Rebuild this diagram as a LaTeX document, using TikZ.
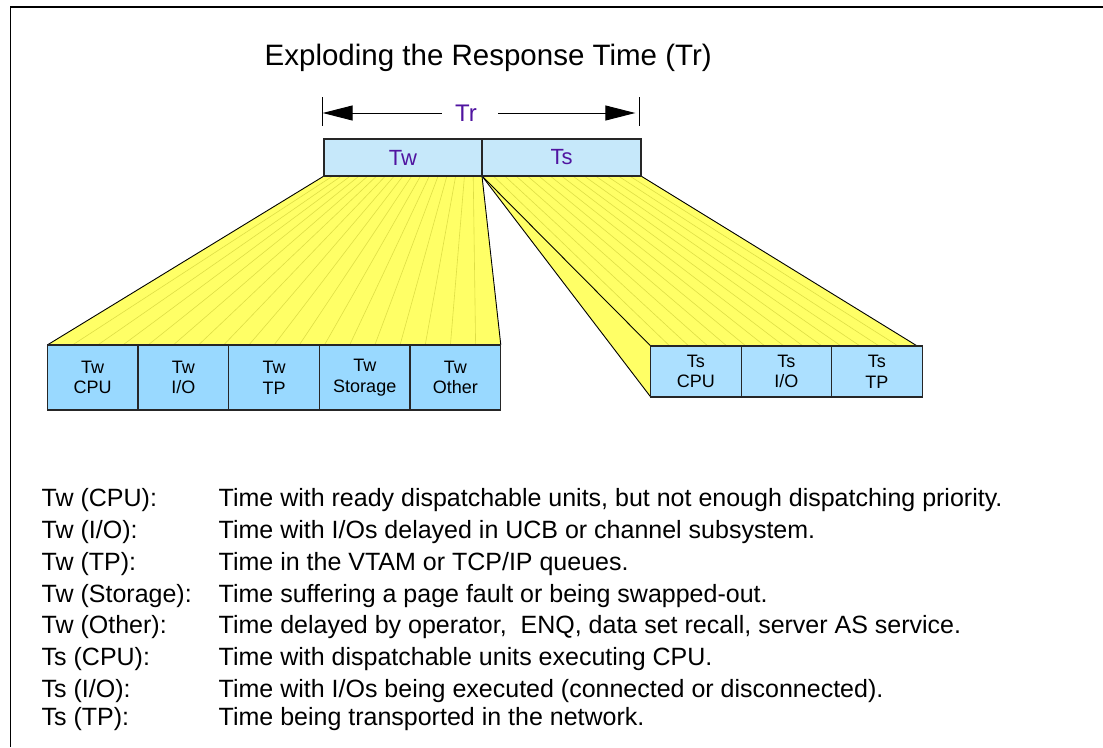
\documentclass[tikz,border=0pt]{standalone}
\usepackage{fontspec}
\setmainfont{Liberation Sans}
\usetikzlibrary{positioning,calc,arrows.meta,backgrounds}
\definecolor{barblue}{RGB}{198,232,250}
\definecolor{twblue}{RGB}{153,217,255}
\definecolor{tsblue}{RGB}{172,224,255}
\definecolor{fanyellow}{RGB}{255,255,102}
\definecolor{ribyellow}{RGB}{222,222,70}
\definecolor{trpurple}{RGB}{80,20,160}

\begin{document}
\begin{tikzpicture}[x=1pt,y=-1pt,
  topbar/.style={draw=black!85,line width=1.3pt,fill=barblue,minimum height=37pt,inner sep=0pt,outer sep=0pt,text=trpurple,font=\fontsize{22}{26}\selectfont},
  boxpart/.style={draw=black!85,line width=1.3pt,inner sep=0pt,outer sep=0pt,align=center,font=\fontsize{18}{20.7}\selectfont},
  twbox/.style={boxpart,fill=twblue,minimum width=90.7pt,minimum height=65pt},
  tsbox/.style={boxpart,fill=tsblue,minimum width=90.5pt,minimum height=51pt},
  rib/.style={ribyellow,line width=0.6pt},
  fanline/.style={black,line width=0.9pt},
  trline/.style={line width=1pt},
  legtxt/.style={anchor=base west,inner sep=0pt,font=\fontsize{25}{30}\selectfont}]
  \useasboundingbox (0,0) rectangle (1103,747);
  \draw[line width=1.3pt] (10.7,747) -- (10.7,7) -- (1103,7);
  %
  \node[anchor=base west,inner sep=0pt,font=\fontsize{29.5}{34}\selectfont] (title) at (264.5,65) {Exploding the Response Time (Tr)};
  % response time bar
  \node[topbar,minimum width=158pt,anchor=north west] (tw) at (324,139) {Tw};
  \node[topbar,minimum width=159pt,right=0pt of tw] (ts) {Ts};
  \node[inner sep=0pt,text=trpurple,font=\fontsize{24}{28}\selectfont] (tr) at (466,113) {Tr};
  \coordinate (trl) at (322.7,113);
  \coordinate (trr) at (639.3,113);
  \draw[trline] ([yshift=16pt]trl) -- ([yshift=-13pt]trl);
  \draw[trline] ([yshift=16pt]trr) -- ([yshift=-13pt]trr);
  \draw[trline,-{Triangle[length=30pt,width=15pt]}] ([xshift=-13pt]tr.west) -- (trl);
  \draw[trline,-{Triangle[length=30pt,width=15pt]},shorten >=4pt] ([xshift=21pt]tr.east) -- (trr);
  % exploded parts
  \node[twbox,anchor=north west] (twcpu) at (47.3,345) {Tw\\CPU};
  \node[twbox,right=0pt of twcpu] (twio) {Tw\\I/O};
  \node[twbox,right=0pt of twio] (twtp) {Tw\\TP};
  \node[twbox,right=0pt of twtp] (twsto) {Tw\\Storage};
  \node[twbox,right=0pt of twsto] (twoth) {Tw\\Other};
  \node[tsbox,anchor=north west] (tscpu) at (650.7,346) {Ts\\CPU};
  \node[tsbox,right=0pt of tscpu] (tsio) {Ts\\I/O};
  \node[tsbox,right=0pt of tsio] (tstp) {Ts\\TP};
  %
  \begin{scope}[on background layer]
    \fill[fanyellow] (tw.south west) -- (tw.south east) -- (twoth.north east) -- (twcpu.north west) -- cycle;
    \foreach \i in {1,...,17}
      \draw[rib] ($(tw.south west)!\i/18!(tw.south east)$) -- ($(twcpu.north west)!\i/18!(twoth.north east)$);
    \draw[fanline] (tw.south west) -- (twcpu.north west);
    \draw[fanline] (tw.south east) -- (twoth.north east);
    %
    \fill[fanyellow] (ts.south west) -- (ts.south east) -- ([xshift=-5pt]tstp.north east) -- (tscpu.north west) -- (tscpu.south west) -- cycle;
    \foreach \i in {1,...,13}
      \draw[rib] ($(ts.south west)!\i/14!(ts.south east)$) -- ($(tscpu.north west)!\i/14!([xshift=-5pt]tstp.north east)$);
    \draw[fanline] (ts.south west) -- (tscpu.north west);
    \draw[fanline] (ts.south west) -- (tscpu.south west);
    \draw[fanline] (ts.south east) -- ([xshift=-5pt]tstp.north east);
  \end{scope}
  % legend
  \node[legtxt] (k1) at (41.5,506) {Tw (CPU):};
  \node[legtxt] (d1) at (218.5,506) {Time with ready dispatchable units, but not enough dispatching priority.};
  \node[legtxt] (k2) at (41.5,538) {Tw (I/O):};
  \node[legtxt] (d2) at (218.5,538) {Time with I/Os delayed in UCB or channel subsystem.};
  \node[legtxt] (k3) at (41.5,570) {Tw (TP):};
  \node[legtxt] (d3) at (218.5,570) {Time in the VTAM or TCP/IP queues.};
  \node[legtxt] (k4) at (41.5,602) {Tw (Storage):};
  \node[legtxt] (d4) at (218.5,602) {Time suffering a page fault or being swapped-out.};
  \node[legtxt] (k5) at (41.5,633.5) {Tw (Other):};
  \node[legtxt] (d5) at (218.5,633.5) {Time delayed by operator,\ \ ENQ, data set recall, server AS service.};
  \node[legtxt] (k6) at (41.5,665) {Ts (CPU):};
  \node[legtxt] (d6) at (218.5,665) {Time with dispatchable units executing CPU.};
  \node[legtxt] (k7) at (41.5,697) {Ts (I/O):};
  \node[legtxt] (d7) at (218.5,697) {Time with I/Os being executed (connected or disconnected).};
  \node[legtxt] (k8) at (41.5,725) {Ts (TP):};
  \node[legtxt] (d8) at (218.5,725) {Time being transported in the network.};
\end{tikzpicture}
\end{document}
